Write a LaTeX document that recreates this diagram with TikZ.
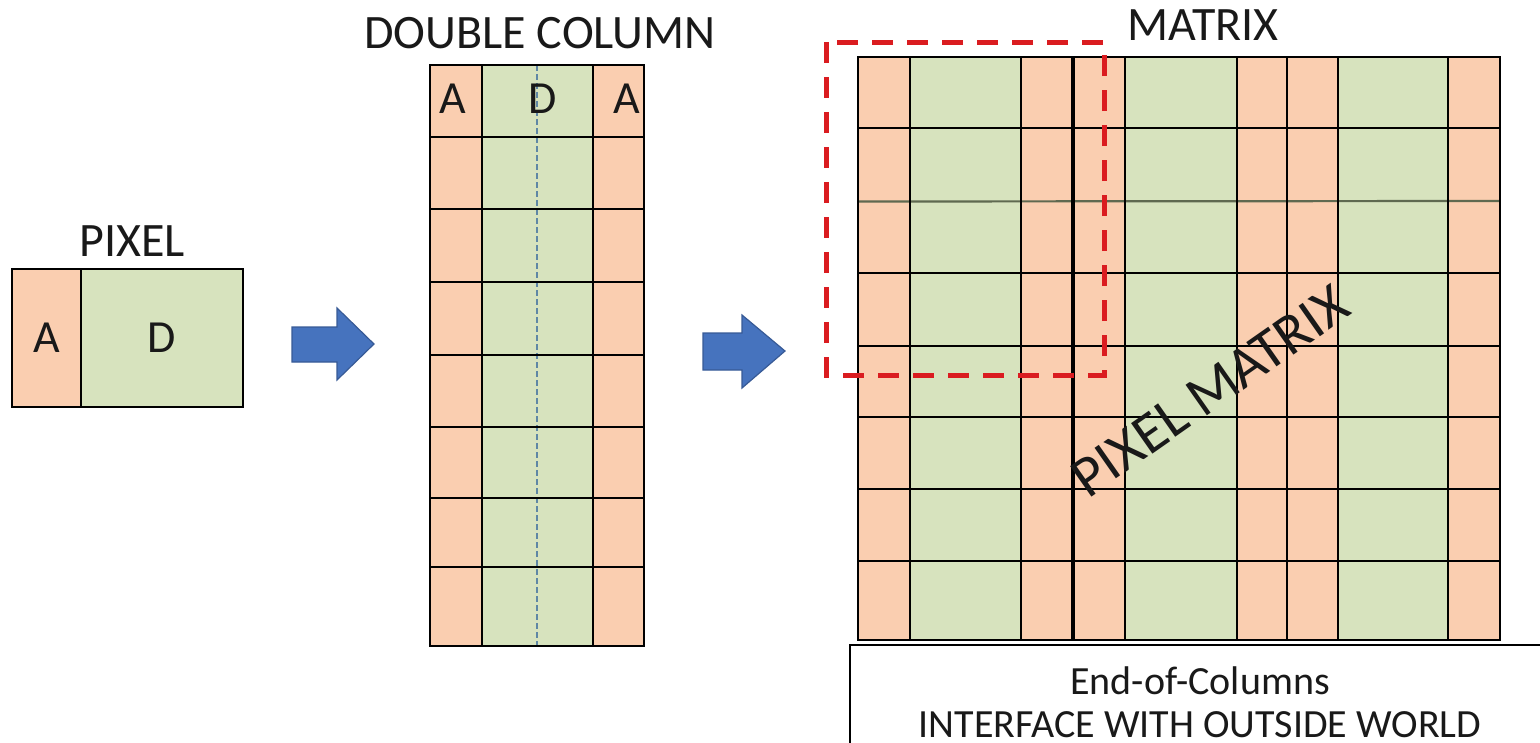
\documentclass[tikz,border=0pt]{standalone}
\usepackage{fontspec}
\setmainfont{Carlito}
\definecolor{acol}{RGB}{250,206,176}
\definecolor{dcol}{RGB}{215,227,190}
\definecolor{arrfill}{RGB}{70,115,190}
\definecolor{arredge}{RGB}{55,90,150}
\definecolor{redbox}{RGB}{218,28,32}
\definecolor{dashblue}{RGB}{95,135,165}
\definecolor{oliveline}{RGB}{95,105,80}
\definecolor{txt}{RGB}{25,25,25}
\tikzset{
  gridline/.style={draw=black, line width=1.8pt},
  title/.style={font=\fontsize{48}{56}\selectfont, inner sep=0pt, text=txt},
  cellletter/.style={font=\fontsize{46}{54}\selectfont, inner sep=0pt, text=txt},
  eoctext/.style={font=\fontsize{40}{48}\selectfont, inner sep=0pt, anchor=base, text=txt},
  blockarrow/.style={fill=arrfill, draw=arredge, line width=1.2pt, line join=miter},
  selbox/.style={draw=redbox, line width=5pt, dash pattern=on 21pt off 14pt},
}
\begin{document}
\begin{tikzpicture}[x=1pt,y=-1pt]
\useasboundingbox (0,0) rectangle (1540,742);
% ---------- PIXEL ----------
\fill[acol] (12,269) rectangle (81,407);
\fill[dcol] (81,269) rectangle (243,407);
\draw[gridline] (12,269) rectangle (243,407);
\draw[gridline] (81,269) -- (81,407);
\node[cellletter] (pa) at (47,338) {A};
\node[cellletter] (pd) at (162,338) {D};
\node[title] (ptitle) at (132,241) {PIXEL};
% ---------- arrow 1 ----------
\draw[blockarrow] (292,327) -- (337,327) -- (337,308) -- (374,344) -- (337,380) -- (337,362) -- (292,362) -- cycle;
% ---------- DOUBLE COLUMN ----------
\fill[acol] (430,65) rectangle (482,646);
\fill[dcol] (482,65) rectangle (593,646);
\fill[acol] (593,65) rectangle (644,646);
\draw[dashblue, line width=1.2pt, dash pattern=on 6pt off 3pt] (537,65) -- (537,646);
\foreach \y in {137,209,282,355,427,498,567} \draw[gridline] (430,\y) -- (644,\y);
\foreach \x in {482,593} \draw[gridline] (\x,65) -- (\x,646);
\draw[gridline] (430,65) rectangle (644,646);
\node[cellletter] (dca1) at (453,99) {A};
\node[cellletter] (dcd) at (543,99) {D};
\node[cellletter] (dca2) at (627,99) {A};
\node[title] (dctitle) at (540,33) {DOUBLE COLUMN};
% ---------- arrow 2 ----------
\draw[blockarrow] (703,333) -- (742,333) -- (742,315) -- (785,351) -- (742,388) -- (742,370) -- (703,370) -- cycle;
% ---------- MATRIX ----------
\foreach \xa/\xb/\c in {858/910/acol,910/1021/dcol,1021/1073/acol,1073/1125/acol,1125/1237/dcol,1237/1287/acol,1287/1338/acol,1338/1448/dcol,1448/1500/acol}
  \fill[\c] (\xa,57) rectangle (\xb,640);
\foreach \y in {128,273,346,417,489,561} \draw[gridline] (858,\y) -- (1500,\y);
\draw[draw=oliveline, line width=2.2pt] (858,201.5) -- (1500,201);
\foreach \x in {910,1021,1125,1237,1287,1338,1448} \draw[gridline] (\x,57) -- (\x,640);
\draw[draw=black, line width=3.5pt] (1073,57) -- (1073,640);
\draw[gridline] (858,57) rectangle (1500,640);
\node[title] (mtitle) at (1203,25) {MATRIX};
\node[font=\fontsize{58}{62}\selectfont, inner sep=0pt, rotate=35, text=txt] (pm) at (1210,391) {PIXEL MATRIX};
% ---------- red selection ----------
\draw[selbox] (826,42) rectangle (1104,375);
% ---------- End-of-Columns ----------
\draw[gridline] (850,645) rectangle (1570,770);
\node[eoctext] (eoc) at (1200,694) {End-of-Columns};
\node[eoctext] (ifc) at (1200,737) {INTERFACE WITH OUTSIDE WORLD};
\end{tikzpicture}
\end{document}
